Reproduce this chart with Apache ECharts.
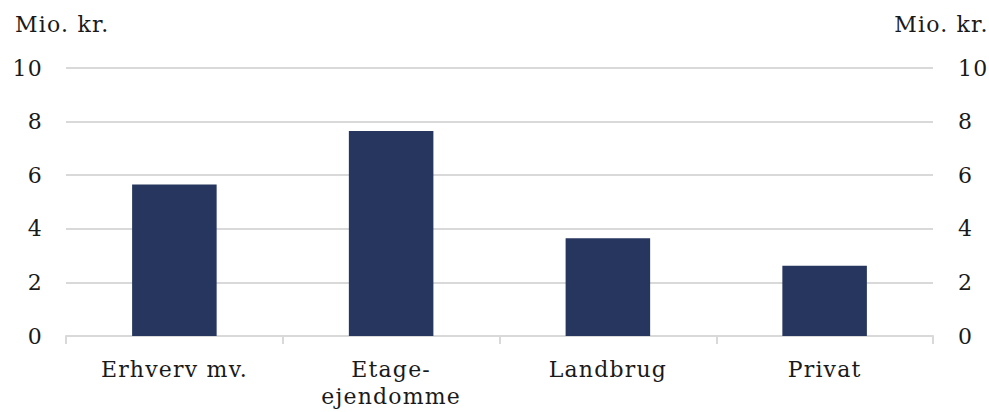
<!DOCTYPE html>
<html><head><meta charset="utf-8">
<script src="https://cdn.jsdelivr.net/npm/echarts@6/dist/echarts.min.js"></script>
<style>html,body{margin:0;padding:0;background:#fff}#c{width:989px;height:412px}#c text{letter-spacing:1.2px}</style>
</head><body><div id="c"></div>
<script>
const categories = ['Erhverv mv.', 'Etage-\nejendomme', 'Landbrug', 'Privat'];
const values = [5.65, 7.65, 3.65, 2.62];
const yTicks = { min: 0, max: 10, interval: 2 };
const unitLabel = 'Mio. kr.';

const font = 'DejaVu Serif';
const fs = 22;
const txt = '#1a1a1a';
const chart = echarts.init(document.getElementById('c'), null, { renderer: 'svg' });
chart.setOption({
  animation: false,
  title: [
    { text: unitLabel, left: 15, top: 13, padding: 0, textStyle: { fontFamily: font, fontSize: fs, fontWeight: 'normal', color: txt } },
    { text: unitLabel, right: 10, top: 13, padding: 0, textStyle: { fontFamily: font, fontSize: fs, fontWeight: 'normal', color: txt } }
  ],
  grid: { left: 66, right: 56, top: 68, bottom: 76, containLabel: false },
  xAxis: {
    type: 'category', data: categories,
    axisLine: { lineStyle: { color: '#d9d9d9', width: 2 } },
    axisTick: { show: true, length: 8, lineStyle: { color: '#d9d9d9', width: 2 } },
    axisLabel: { fontFamily: font, fontSize: fs, color: txt, margin: 20, lineHeight: 27 }
  },
  yAxis: [
    { type: 'value', min: yTicks.min, max: yTicks.max, interval: yTicks.interval, position: 'left',
      axisLine: { show: false }, axisTick: { show: false },
      splitLine: { lineStyle: { color: '#d9d9d9', width: 2 } },
      axisLabel: { fontFamily: font, fontSize: fs, color: txt, margin: 23 } },
    { type: 'value', min: yTicks.min, max: yTicks.max, interval: yTicks.interval, position: 'right',
      axisLine: { show: false }, axisTick: { show: false }, splitLine: { show: false },
      axisLabel: { fontFamily: font, fontSize: fs, color: txt, margin: 25 } }
  ],
  series: [{ type: 'bar', data: values, barWidth: '39%', itemStyle: { color: '#27365f' } }]
});
</script></body></html>
